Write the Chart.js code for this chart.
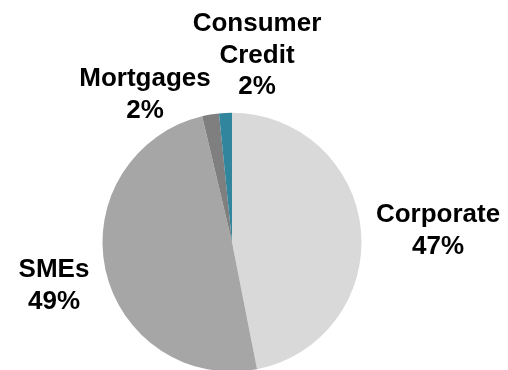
<!DOCTYPE html>
<html>
<head>
<meta charset="utf-8">
<script src="https://cdn.jsdelivr.net/npm/chart.js@4/dist/chart.umd.min.js"></script>
<style>
  html, body { margin: 0; padding: 0; background: #fff; overflow: hidden; }
  #wrap { width: 508px; height: 373px; position: relative; }
</style>
</head>
<body>
<div id="wrap"><canvas id="pie"></canvas></div>
<script>
// loan book split by segment
const segments = ["Corporate", "SMEs", "Mortgages", "Consumer Credit"];
const shares = [46.9, 49.4, 2.1, 1.6];
const sliceColors = ["#d9d9d9", "#a6a6a6", "#7f7f7f", "#31859c"];

// label text lines, split the way they are drawn
const labelLines = [["Corporate"], ["SMEs"], ["Mortgages"], ["Consumer", "Credit"]];
// where each label's first baseline sits, relative to the pie centre
const labelAnchor = [
  { dx: 206, dy: -20 },
  { dx: -178, dy: 35 },
  { dx: -87, dy: -156 },
  { dx: 25, dy: -211 }
];
const lineGap = 31.5;

const sliceLabels = {
  id: 'sliceLabels',
  afterDatasetsDraw(chart) {
    const ctx = chart.ctx;
    const arcs = chart.getDatasetMeta(0).data;
    const total = shares.reduce((a, b) => a + b, 0);
    ctx.save();
    ctx.font = "bold 26px 'Liberation Sans', Arial, sans-serif";
    ctx.fillStyle = "#000";
    ctx.textAlign = "center";
    ctx.textBaseline = "alphabetic";
    arcs.forEach((arc, i) => {
      const lines = labelLines[i].concat([Math.round(shares[i] / total * 100) + "%"]);
      const x = arc.x + labelAnchor[i].dx;
      let y = arc.y + labelAnchor[i].dy;
      lines.forEach(t => {
        ctx.fillText(t, x, y);
        y += lineGap;
      });
    });
    ctx.restore();
  }
};

new Chart(document.getElementById("pie"), {
  type: 'pie',
  data: {
    labels: segments,
    datasets: [{
      data: shares,
      backgroundColor: sliceColors,
      borderWidth: 0
    }]
  },
  options: {
    responsive: true,
    maintainAspectRatio: false,
    animation: false,
    layout: { padding: { left: 102.5, right: 146.5, top: 112.5, bottom: 1 } },
    plugins: {
      legend: { display: false },
      tooltip: { enabled: false }
    }
  },
  plugins: [sliceLabels]
});
</script>
</body>
</html>
